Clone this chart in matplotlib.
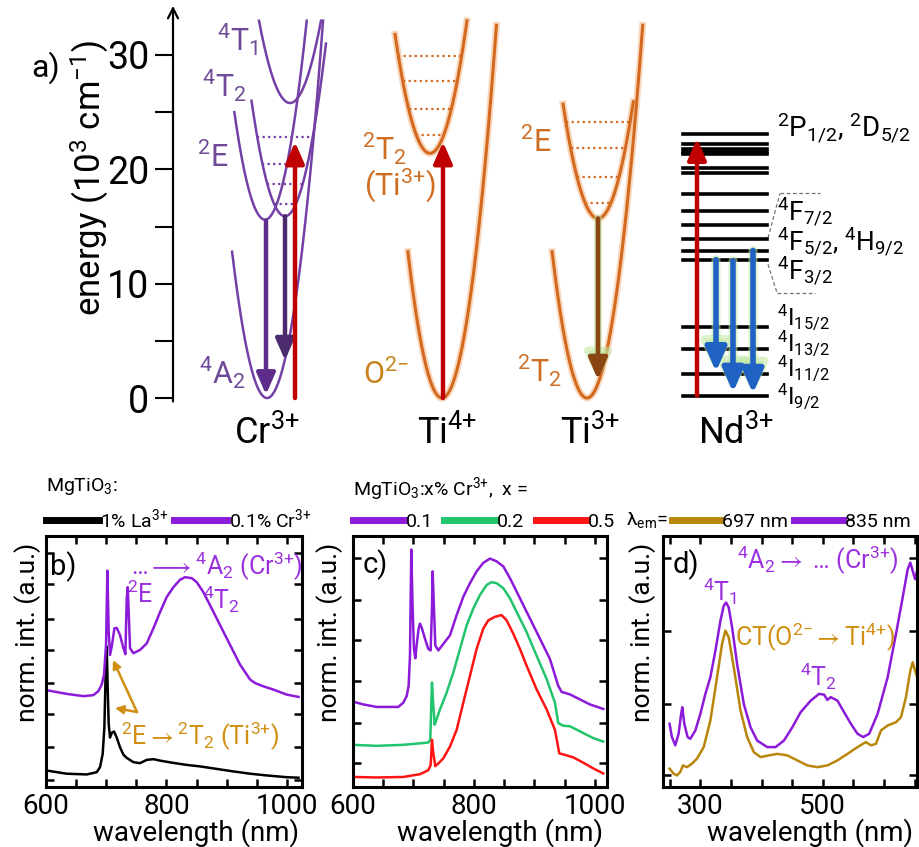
import numpy as np
import matplotlib
matplotlib.use('Agg')
import matplotlib.pyplot as plt
from matplotlib.ticker import MultipleLocator, FixedLocator

plt.rcParams['font.family'] = ['Roboto', 'DejaVu Sans']
plt.rcParams['mathtext.fontset'] = 'custom'
plt.rcParams['mathtext.rm'] = 'Roboto'
plt.rcParams['mathtext.it'] = 'Roboto:italic'
plt.rcParams['mathtext.bf'] = 'Roboto:bold'
plt.rcParams['mathtext.default'] = 'regular'
plt.rcParams['mathtext.fallback'] = 'stixsans'

# ---------------- panel a: configuration-coordinate diagrams ----------------
# energies in 10^3 cm^-1, q = configuration coordinate (arb. units)
cr_q0 = [9.4, 9.2, 11.2, 11.7]          # 4A2, 2E, 4T2, 4T1
cr_E0 = [0.0, 15.6, 15.9, 25.8]
cr_k = [1.05, 1.0, 0.9, 0.75]
cr_Eleft = [12.8, 25.0, 26.0, 33.0]
cr_Eright = [33.0, 33.0, 31.0, 33.0]
cr_vib = [17.0, 18.7, 20.5, 22.8]       # levels in the 4T2 well

ti4_q0 = [26.9, 25.7]                   # O2- ground, 2T2 (Ti3+)
ti4_E0 = [0.0, 21.4]
ti4_k = [1.1, 0.85]
ti4_Eleft = [12.8, 31.8]
ti4_Eright = [32.6, 33.0]
ti4_vib = [23.0, 25.3, 27.7, 29.9]

ti3_q0 = [41.4, 42.5]                   # 2T2, 2E
ti3_E0 = [0.0, 15.7]
ti3_k = [1.05, 0.82]
ti3_Eleft = [12.8, 25.7]
ti3_Eright = [32.6, 25.9]
ti3_vib = [17.1, 19.3, 21.9, 24.1]

nd_levels = [23.1, 22.2, 21.8, 21.5, 21.3, 20.1, 19.7, 17.8, 16.4, 15.1,
             13.9, 12.9, 12.1, 6.2, 4.3, 2.1, 0.2]
nd_q = [51.0, 59.4]
nd_blue_q = [54.3, 56.0, 58.0]
nd_blue_from = [12.1, 12.0, 12.9]
nd_blue_to = [2.3, 0.5, 0.4]

# ---------------- panel b ----------------
b_la_x = [600, 634.3, 667.5, 684.2, 689.7, 694.1, 696.9, 699.1, 700.8, 702.4,
          704.1, 706.3, 709.6, 713.0, 717.4, 722.9, 728.5, 734.0, 745.1, 756.1,
          767.2, 778.3, 789.4, 811.5, 833.7, 855.8, 883.5, 911.2, 938.9, 966.5,
          999.8, 1019.2]
b_la_y = [0.066, 0.053, 0.050, 0.059, 0.079, 0.132, 0.237, 0.461, 0.559, 0.395,
          0.250, 0.197, 0.217, 0.221, 0.197, 0.158, 0.129, 0.116, 0.099, 0.095,
          0.108, 0.111, 0.105, 0.096, 0.088, 0.082, 0.072, 0.062, 0.053, 0.046,
          0.039, 0.037]
b_cr_x = [600, 634.3, 662.0, 678.6, 686.9, 692.5, 696.3, 699.7, 701.9, 704.1,
          706.3, 709.6, 713.5, 717.4, 722.9, 728.5, 731.8, 734.0, 735.7, 737.3,
          739.5, 745.1, 756.1, 767.2, 778.3, 789.4, 800.4, 811.5, 822.6, 830.9,
          842.0, 850.3, 861.3, 872.4, 889.0, 905.6, 922.3, 938.9, 947.2, 961.0,
          977.6, 999.8, 1019.2]
b_cr_y = [0.386, 0.371, 0.362, 0.366, 0.382, 0.408, 0.447, 0.566, 0.862, 0.618,
          0.526, 0.566, 0.632, 0.634, 0.605, 0.553, 0.529, 0.750, 0.796, 0.697,
          0.553, 0.533, 0.546, 0.572, 0.632, 0.697, 0.757, 0.796, 0.826, 0.836,
          0.832, 0.816, 0.776, 0.724, 0.645, 0.566, 0.487, 0.428, 0.414, 0.401,
          0.388, 0.368, 0.359]

# ---------------- panel c ----------------
c01_x = [600, 617.1, 639.1, 674.9, 683.2, 688.7, 692.0, 694.2, 696.4, 698.6,
         700.8, 703.0, 705.2, 708.5, 710.8, 714.1, 719.0, 724.5, 728.4, 730.6,
         731.7, 733.3, 736.1, 741.1, 749.3, 760.3, 771.4, 782.4, 793.4, 804.4,
         815.4, 826.5, 837.5, 848.5, 859.5, 870.5, 887.1, 909.1, 925.6, 939.4,
         944.9, 958.7, 975.2, 991.8, 1013.8]
c01_y = [0.340, 0.329, 0.319, 0.319, 0.336, 0.362, 0.403, 0.523, 0.946, 0.711,
         0.550, 0.513, 0.564, 0.631, 0.651, 0.631, 0.591, 0.550, 0.544, 0.711,
         0.859, 0.752, 0.564, 0.544, 0.570, 0.604, 0.685, 0.758, 0.812, 0.859,
         0.893, 0.910, 0.899, 0.879, 0.832, 0.779, 0.698, 0.591, 0.510, 0.403,
         0.379, 0.369, 0.349, 0.329, 0.311]
c02_x = [600, 639.1, 683.2, 710.8, 724.5, 727.8, 729.5, 730.6, 732.2, 735.0,
         738.3, 743.8, 754.8, 765.9, 776.9, 787.9, 798.9, 809.9, 821.0, 829.2,
         837.5, 848.5, 859.5, 870.5, 887.1, 903.6, 920.2, 933.9, 939.4, 947.7,
         958.7, 980.7, 997.3, 1013.8]
c02_y = [0.168, 0.164, 0.168, 0.174, 0.177, 0.188, 0.336, 0.416, 0.349, 0.248,
         0.271, 0.309, 0.376, 0.456, 0.550, 0.644, 0.711, 0.765, 0.805, 0.816,
         0.812, 0.792, 0.752, 0.698, 0.617, 0.523, 0.430, 0.336, 0.255, 0.244,
         0.242, 0.215, 0.195, 0.181]
c05_x = [600, 639.1, 683.2, 710.8, 724.5, 728.4, 730.6, 732.8, 736.1, 741.1,
         749.3, 760.3, 771.4, 782.4, 793.4, 804.4, 815.4, 823.7, 834.7, 845.7,
         854.0, 865.0, 876.1, 887.1, 903.6, 920.2, 933.9, 941.1, 950.4, 964.2,
         980.7, 997.3, 1013.8]
c05_y = [0.040, 0.038, 0.040, 0.051, 0.067, 0.087, 0.188, 0.134, 0.083, 0.094,
         0.114, 0.161, 0.228, 0.336, 0.443, 0.550, 0.631, 0.664, 0.678, 0.685,
         0.664, 0.611, 0.550, 0.483, 0.389, 0.309, 0.228, 0.134, 0.128, 0.118,
         0.097, 0.074, 0.054]

# ---------------- panel d ----------------
d835_x = [249.7, 253.6, 259.0, 264.5, 268.3, 270.5, 273.8, 279.2, 283.6, 291.8,
          300.0, 308.2, 316.4, 324.6, 332.8, 338.2, 342.1, 346.4, 351.9, 360.1,
          371.0, 382.0, 392.9, 409.3, 422.9, 436.6, 450.3, 463.9, 480.3, 494.0,
          502.2, 507.6, 513.1, 524.0, 534.9, 545.9, 556.8, 566.1, 575.9, 589.6,
          606.0, 619.6, 630.6, 638.8, 643.1, 647.0, 650.8, 654.1]
d835_y = [0.252, 0.199, 0.166, 0.212, 0.285, 0.318, 0.252, 0.199, 0.192, 0.225,
          0.291, 0.371, 0.437, 0.543, 0.662, 0.722, 0.735, 0.715, 0.636, 0.490,
          0.331, 0.238, 0.185, 0.159, 0.159, 0.185, 0.238, 0.298, 0.344, 0.371,
          0.368, 0.347, 0.358, 0.344, 0.298, 0.252, 0.212, 0.199, 0.212, 0.291,
          0.437, 0.609, 0.755, 0.868, 0.894, 0.861, 0.828, 0.861]
d697_x = [249.7, 256.3, 261.8, 267.2, 271.6, 278.1, 286.3, 294.5, 305.5, 316.4,
          327.3, 335.5, 341.0, 346.4, 354.6, 365.6, 376.5, 387.4, 398.4, 412.0,
          425.7, 442.1, 458.5, 474.8, 491.2, 507.6, 524.0, 540.4, 556.8, 570.5,
          578.7, 586.9, 595.1, 606.0, 619.6, 627.8, 636.0, 643.1, 647.0, 650.8,
          654.1]
d697_y = [0.073, 0.053, 0.046, 0.060, 0.086, 0.079, 0.093, 0.113, 0.159, 0.265,
          0.437, 0.570, 0.623, 0.596, 0.477, 0.305, 0.199, 0.139, 0.119, 0.126,
          0.132, 0.126, 0.106, 0.086, 0.079, 0.086, 0.106, 0.132, 0.159, 0.179,
          0.166, 0.172, 0.225, 0.245, 0.258, 0.278, 0.358, 0.464, 0.497, 0.464,
          0.437]

PURPLE_A = '#7440a6'
PURPLE_T = '#6e4a98'
ORANGE = '#d2691e'
ORANGE_T = '#cf6d22'
GOLD_O = '#c9831b'
DARKRED = '#c00000'
VIOLET = '#8c1ad9'
VIOLET_T = '#9b30e0'
GREEN = '#22c46c'
RED = '#ff1414'
GOLD = '#b8860b'
GOLD_T = '#d08f10'

W, H = 919, 847
fig = plt.figure(figsize=(W / 100, H / 100), dpi=100)


def put(px, py, s, **kw):
    kw.setdefault('ha', 'center')
    kw.setdefault('va', 'center')
    return fig.text(px / W, 1 - py / H, s, **kw)


def well(q0, E0, k, El, Er):
    q = np.linspace(q0 - np.sqrt((El - E0) / k), q0 + np.sqrt((Er - E0) / k), 200)
    return q, E0 + k * (q - q0) ** 2


def arrow(ax, q, e1, e2, color, lw=3.0, glow=None, ms=16):
    if glow is not None:
        ax.annotate('', xy=(q, e2), xytext=(q, e1),
                    arrowprops=dict(arrowstyle='-|>,head_length=0.8,head_width=0.4',
                                    lw=lw + 2.5, color=glow, alpha=0.55,
                                    shrinkA=0, shrinkB=0, mutation_scale=ms + 2),
                    zorder=4)
    ax.annotate('', xy=(q, e2), xytext=(q, e1),
                arrowprops=dict(arrowstyle='-|>,head_length=0.8,head_width=0.35',
                                lw=lw, color=color, shrinkA=0, shrinkB=0,
                                mutation_scale=ms),
                zorder=5)


ax = fig.add_axes([173 / W, 1 - 460 / H, 1 - 173 / W, 460 / H])
ax.set_xlim(0, 74.6)
ax.set_ylim(-5.42, 34.81)
ax.patch.set_visible(False)
for s in ax.spines.values():
    s.set_visible(False)
ax.set_xticks([])
ax.set_yticks([0, 10, 20, 30])
ax.yaxis.set_minor_locator(FixedLocator([5, 15, 25]))
ax.tick_params(axis='y', which='both', direction='out', length=13, width=1.5,
               labelsize=27, pad=4)
ax.annotate('', xy=(0, 34.3), xytext=(0, -0.3),
            arrowprops=dict(arrowstyle='->', lw=1.6, color='k', shrinkA=0,
                            shrinkB=0, mutation_scale=18),
            annotation_clip=False)

# Cr3+
for i in range(4):
    q, e = well(cr_q0[i], cr_E0[i], cr_k[i], cr_Eleft[i], cr_Eright[i])
    ax.plot(q, e, color=PURPLE_A, lw=1.8, zorder=2)
for ev in cr_vib:
    hw = np.sqrt((ev - cr_E0[2]) / cr_k[2])
    ax.plot([cr_q0[2] - hw, cr_q0[2] + hw], [ev, ev], color=PURPLE_A,
            ls=(0, (1, 1.5)), lw=1.6, zorder=2)
arrow(ax, 9.3, cr_E0[1] - 0.1, 0.3, '#5e2d8c', lw=3.2)
arrow(ax, cr_q0[2], cr_E0[2], 3.3, '#4b2a6e', lw=3.2)
arrow(ax, 12.2, 0.0, 22.4, DARKRED, lw=3.2)

# Ti4+
for i in range(2):
    q, e = well(ti4_q0[i], ti4_E0[i], ti4_k[i], ti4_Eleft[i], ti4_Eright[i])
    ax.plot(q, e, color='#f6b98a', lw=5, alpha=0.55, zorder=1)
    ax.plot(q, e, color=ORANGE, lw=2.2, zorder=2)
for ev in ti4_vib:
    hw = np.sqrt((ev - ti4_E0[1]) / ti4_k[1])
    ax.plot([ti4_q0[1] - hw, ti4_q0[1] + hw], [ev, ev], color=ORANGE,
            ls=(0, (1, 1.5)), lw=1.6, zorder=2)
arrow(ax, 27.0, 0.0, 22.4, DARKRED, lw=3.2)

# Ti3+
for i in range(2):
    q, e = well(ti3_q0[i], ti3_E0[i], ti3_k[i], ti3_Eleft[i], ti3_Eright[i])
    ax.plot(q, e, color='#f6b98a', lw=5, alpha=0.55, zorder=1)
    ax.plot(q, e, color=ORANGE, lw=2.2, zorder=2)
for ev in ti3_vib:
    hw = np.sqrt((ev - ti3_E0[1]) / ti3_k[1])
    ax.plot([ti3_q0[1] - hw, ti3_q0[1] + hw], [ev, ev], color=ORANGE,
            ls=(0, (1, 1.5)), lw=1.6, zorder=2)
arrow(ax, ti3_q0[1], ti3_E0[1], 1.6, '#8b4513', lw=3.4, glow='#bfe8a0')

# Nd3+
for ev in nd_levels:
    ax.plot(nd_q, [ev, ev], color='k', lw=2.6, zorder=2)
arrow(ax, 52.4, nd_levels[-1], 22.7, DARKRED, lw=3.2)
for q, e1, e2 in zip(nd_blue_q, nd_blue_from, nd_blue_to):
    arrow(ax, q, e1, e2, '#1f62c4', lw=4.0, glow='#bfe8a0', ms=18)
dash = dict(color='0.45', lw=0.9, ls=(0, (3, 2)), zorder=1)
ax.plot([60.7, 64.7], [17.9, 17.9], **dash)
ax.plot([59.5, 60.7], [14.0, 17.9], **dash)
ax.plot([59.5, 60.4], [11.7, 9.2], **dash)
ax.plot([60.4, 64.2], [9.2, 9.2], **dash)

put(46, 68, 'a)', fontsize=23)
put(90, 178, 'energy (10$^{3}$ cm$^{-1}$)', rotation=90, fontsize=25)
put(238, 40, '$^{4}$T$_{1}$', fontsize=22, color=PURPLE_T)
put(224, 86, '$^{4}$T$_{2}$', fontsize=22, color=PURPLE_T)
put(213, 157, '$^{2}$E', fontsize=22, color=PURPLE_T)
put(222, 373, '$^{4}$A$_{2}$', fontsize=22, color=PURPLE_T)
put(384, 149, '$^{2}$T$_{2}$', fontsize=22, color=ORANGE_T)
put(400, 185, '(Ti$^{3{+}}$)', fontsize=22, color=ORANGE_T)
put(386, 374, 'O$^{2{-}}$', fontsize=22, color=GOLD_O)
put(536, 142, '$^{2}$E', fontsize=22, color=ORANGE_T)
put(539, 371, '$^{2}$T$_{2}$', fontsize=22, color=ORANGE_T)
for px, s in zip([267, 447, 590, 736],
                 ['Cr$^{3{+}}$', 'Ti$^{4{+}}$', 'Ti$^{3{+}}$', 'Nd$^{3{+}}$']):
    put(px, 432, s, fontsize=26)
put(777, 128, '$^{2}$P$_{1/2}$, $^{2}$D$_{5/2}$', fontsize=20, ha='left')
put(777, 212, '$^{4}$F$_{7/2}$', fontsize=19, ha='left')
put(777, 242, '$^{4}$F$_{5/2}$, $^{4}$H$_{9/2}$', fontsize=19, ha='left')
put(777, 271, '$^{4}$F$_{3/2}$', fontsize=19, ha='left')
for py, s in zip([317, 343, 368, 396], ['15/2', '13/2', '11/2', '9/2']):
    put(777, py, '$^{4}$I$_{%s}$' % s, fontsize=17, ha='left')

# ---------------- bottom spectra ----------------
axb = fig.add_axes([46 / W, 1 - 787 / H, 256 / W, 251 / H])
axc = fig.add_axes([353 / W, 1 - 787 / H, 254 / W, 251 / H])
axd = fig.add_axes([663 / W, 1 - 787 / H, 254 / W, 251 / H])

lb1, = axb.plot(b_la_x, b_la_y, color='k', lw=1.8, label='1% La$^{3{+}}$')
lb2, = axb.plot(b_cr_x, b_cr_y, color=VIOLET, lw=1.8, label='0.1% Cr$^{3{+}}$')
lc1, = axc.plot(c01_x, c01_y, color=VIOLET, lw=1.8, label='0.1')
lc2, = axc.plot(c02_x, c02_y, color=GREEN, lw=1.8, label='0.2')
lc3, = axc.plot(c05_x, c05_y, color=RED, lw=1.8, label='0.5')
ld2, = axd.plot(d835_x, d835_y, color=VIOLET, lw=1.8, label='835 nm')
ld1, = axd.plot(d697_x, d697_y, color=GOLD, lw=1.8, label='697 nm')

axb.set_xlim(600, 1025)
axc.set_xlim(600, 1020)
axd.set_xlim(239, 654)
for a in (axb, axc):
    a.set_xticks([600, 800, 1000])
axd.set_xticks([300, 500])
for a in (axb, axc, axd):
    a.xaxis.set_minor_locator(MultipleLocator(50))
    a.set_ylim(0, 1)
    for s in a.spines.values():
        s.set_linewidth(2.2)
    a.tick_params(which='both', direction='in', top=True, right=True,
                  length=6, width=1.8, labelsize=20, pad=4, labelleft=False)
axb.set_yticks([0.026, 0.158, 0.289, 0.414, 0.546, 0.671, 0.809, 0.934])
axc.set_yticks([0.094, 0.255, 0.423, 0.584, 0.745, 0.913])
axd.set_yticks([0.046, 0.331, 0.623, 0.914])


def fat(leg):
    for ln in leg.get_lines():
        ln.set_linewidth(5)


leg = axb.legend(handles=[lb1, lb2], loc='lower left', bbox_to_anchor=(0.0, 1.02),
                 ncol=2, frameon=False, title='MgTiO$_{3}$:', alignment='left',
                 fontsize=14, title_fontsize=14, handlelength=2.7,
                 handletextpad=0.1, columnspacing=0.3, borderaxespad=0,
                 borderpad=0)
fat(leg)
leg = axc.legend(handles=[lc1, lc2, lc3], loc='lower left',
                 bbox_to_anchor=(0.0, 1.02), ncol=3, frameon=False,
                 title='MgTiO$_{3}$:x% Cr$^{3{+}}$,  x =', alignment='left',
                 fontsize=14, title_fontsize=14, handlelength=2.6,
                 handletextpad=0.1, columnspacing=0.6, borderaxespad=0,
                 borderpad=0)
fat(leg)
leg = axd.legend(handles=[ld1, ld2], loc='lower left', bbox_to_anchor=(0.035, 1.02),
                 ncol=2, frameon=False, fontsize=14, handlelength=2.5,
                 handletextpad=0.1, columnspacing=0.3, borderaxespad=0,
                 borderpad=0)
fat(leg)
put(647, 520, 'λ$_{em}$=', fontsize=14)

for px in (28, 330, 643):
    put(px, 632, 'norm. int. (a.u.)', rotation=90, fontsize=19)
for px in (196, 500, 810):
    put(px, 841, 'wavelength (nm)', fontsize=20, va='baseline')

put(63, 567, 'b)', fontsize=21)
put(217, 566, r'…$\longrightarrow{}^{4}$A$_{2}$ (Cr$^{3{+}}$)', fontsize=18,
    color=VIOLET_T)
put(140, 594, '$^{2}$E', fontsize=18, color=VIOLET_T)
put(222, 599, '$^{4}$T$_{2}$', fontsize=18, color=VIOLET_T)
put(200, 736, r'$^{2}$E$\rightarrow{}^{2}$T$_{2}$ (Ti$^{3{+}}$)', fontsize=18,
    color=GOLD_T)
for tip in [(113, 660), (115, 708)]:
    axb.annotate('', xy=(tip[0], H - tip[1]), xytext=(137, H - 712),
                 xycoords='figure pixels', textcoords='figure pixels',
                 arrowprops=dict(arrowstyle='-|>', color=GOLD_T, lw=1.8,
                                 mutation_scale=12, shrinkA=0, shrinkB=0))

put(375, 565, 'c)', fontsize=21)

put(686, 565, 'd)', fontsize=21)
put(818, 560, r'$^{4}$A$_{2}\rightarrow$ … (Cr$^{3{+}}$)', fontsize=18,
    color=VIOLET_T)
put(720, 591, '$^{4}$T$_{1}$', fontsize=18, color=VIOLET_T)
put(815, 637, r'CT(O$^{2{-}}\rightarrow$Ti$^{4{+}}$)', fontsize=18, color=GOLD_T)
put(819, 676, '$^{4}$T$_{2}$', fontsize=18, color=VIOLET_T)

fig.savefig('out.png', dpi=100)
